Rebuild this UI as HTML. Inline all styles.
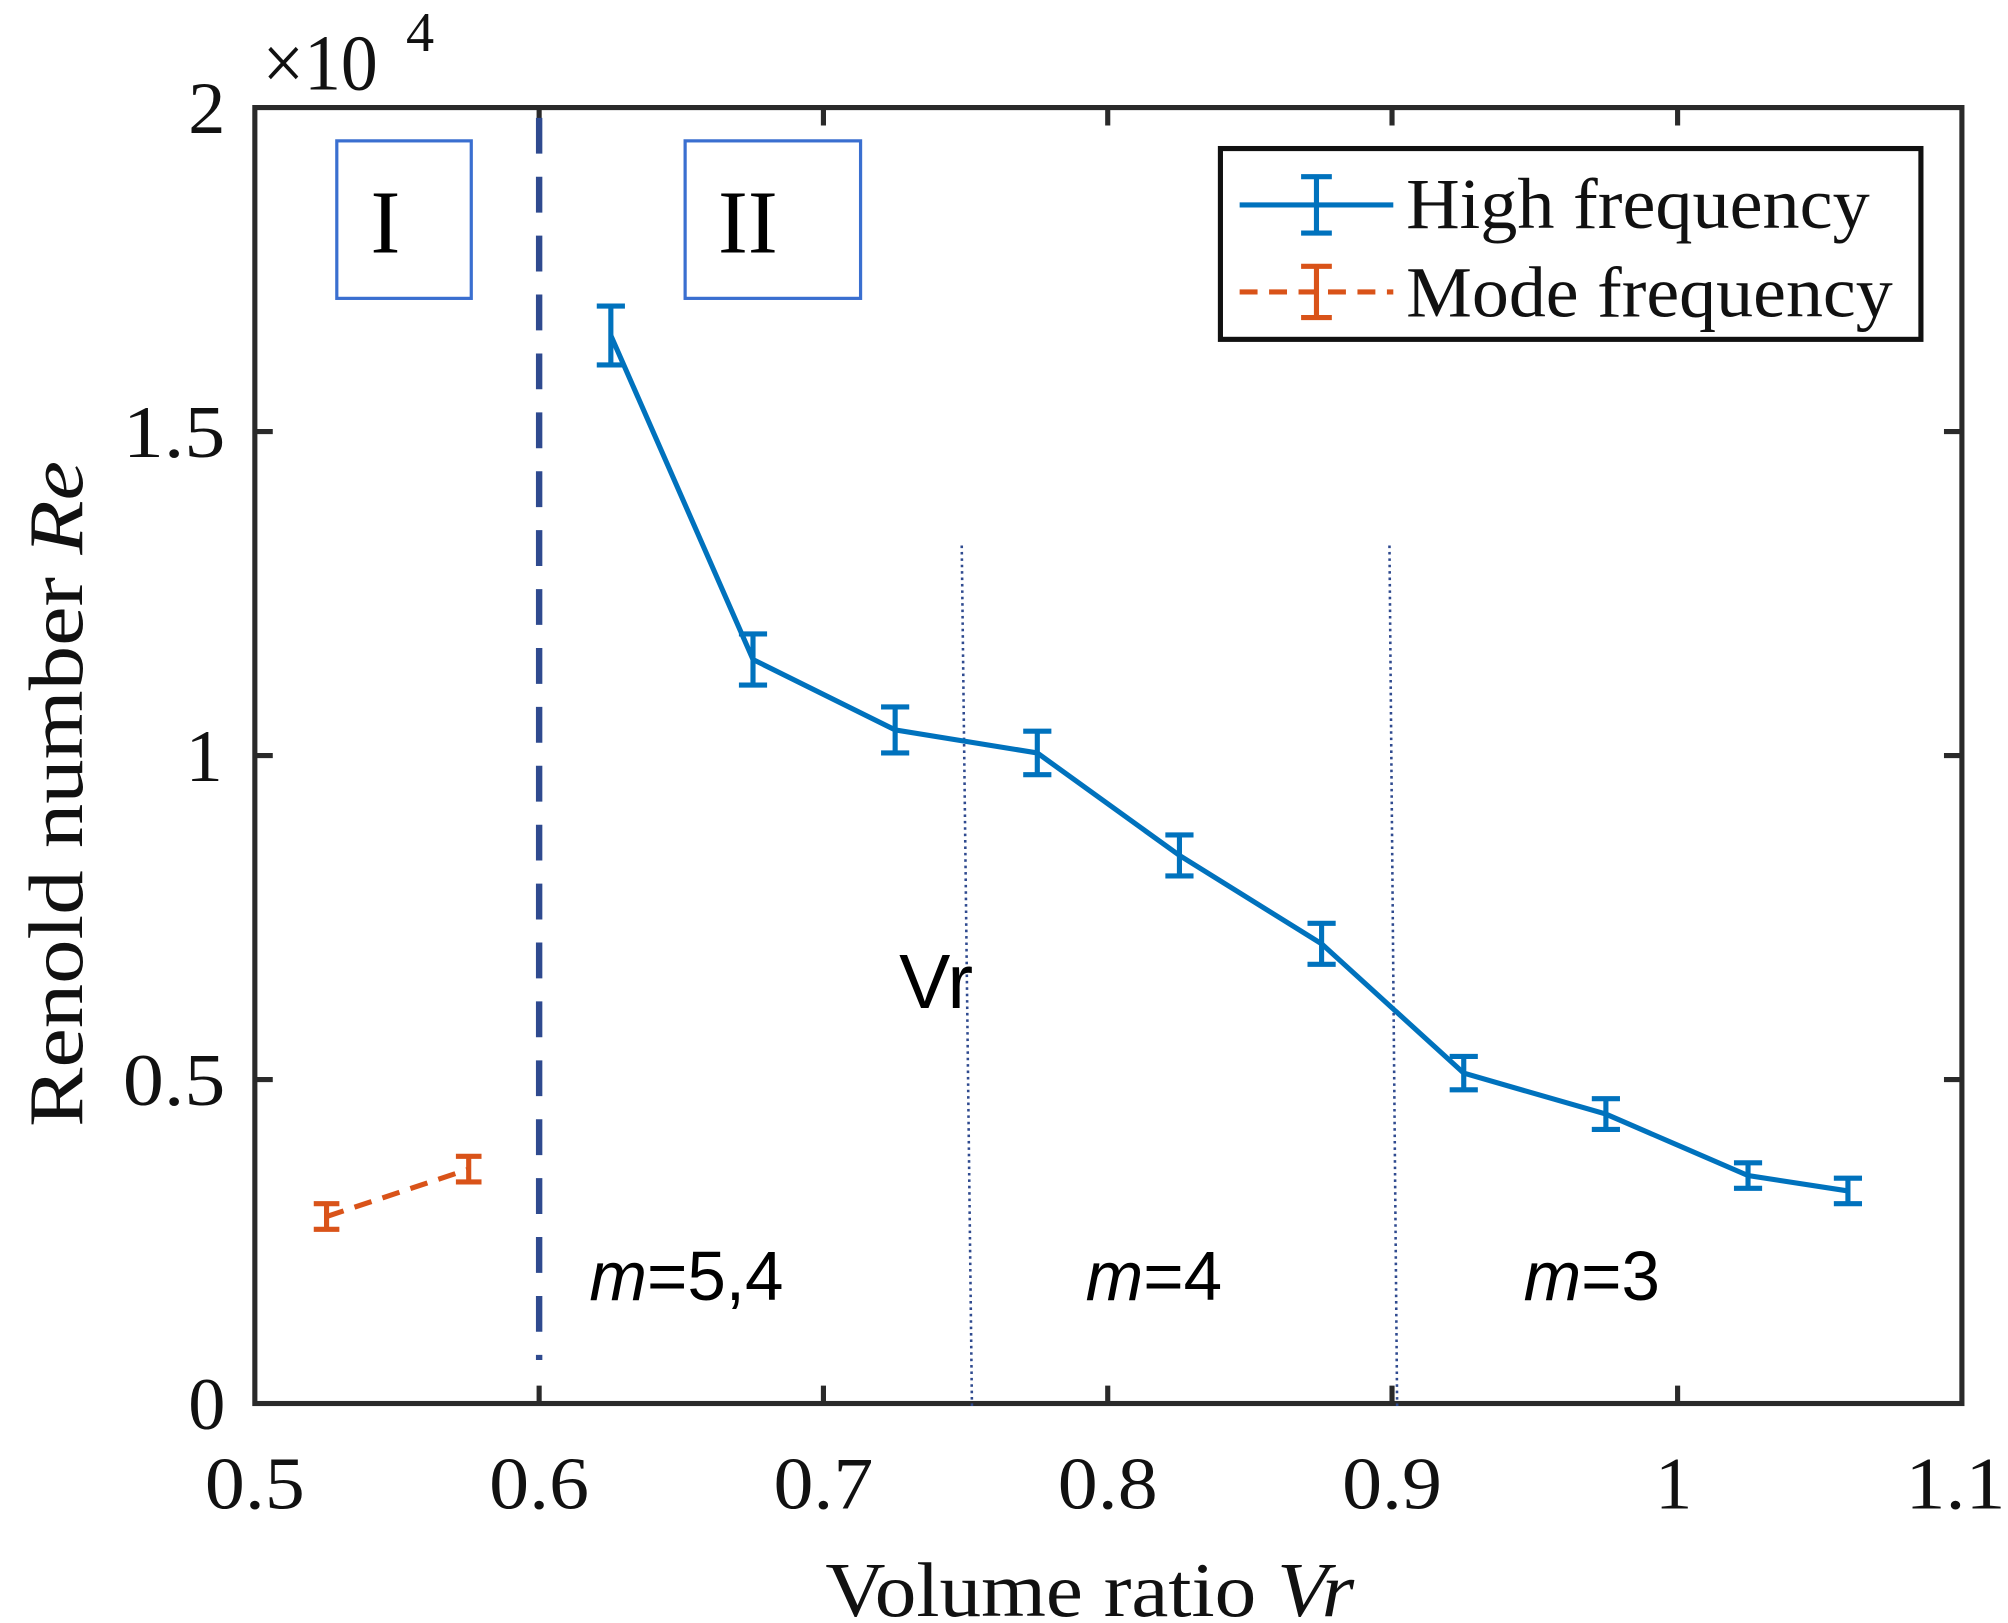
<!DOCTYPE html>
<html><head><style>html,body{margin:0;padding:0;background:#fff}svg{display:block}</style></head>
<body>
<svg width="2008" height="1623" viewBox="0 0 1568 1267.4" preserveAspectRatio="none" xmlns="http://www.w3.org/2000/svg">
<rect width="1568" height="1268" fill="#fff"/>
<g stroke="#2a2a2a" stroke-width="4" fill="none">
<rect x="199" y="84" width="1333" height="1012"/>
<path d="M421,1096v-14M643,1096v-14M865,1096v-14M1087,1096v-14M1310,1096v-14M421,84v14M643,84v14M865,84v14M1087,84v14M1310,84v14"/>
<path d="M199,843h14M199,590h14M199,337h14M1532,843h-14M1532,590h-14M1532,337h-14"/>
</g>
<g font-family="Liberation Serif, serif" font-size="58" fill="#111" text-anchor="middle">
<text x="199" y="1178" textLength="78" lengthAdjust="spacingAndGlyphs">0.5</text><text x="421" y="1178" textLength="78" lengthAdjust="spacingAndGlyphs">0.6</text><text x="643" y="1178" textLength="78" lengthAdjust="spacingAndGlyphs">0.7</text><text x="865" y="1178" textLength="78" lengthAdjust="spacingAndGlyphs">0.8</text><text x="1087" y="1178" textLength="78" lengthAdjust="spacingAndGlyphs">0.9</text><text x="1307" y="1178">1</text><text x="1527" y="1178" textLength="78" lengthAdjust="spacingAndGlyphs">1.1</text>
<g text-anchor="end"><text x="176" y="1116">0</text><text x="176" y="863" textLength="80" lengthAdjust="spacingAndGlyphs">0.5</text><text x="174" y="610">1</text><text x="176" y="357" textLength="80" lengthAdjust="spacingAndGlyphs">1.5</text><text x="176" y="104">2</text></g>
<text x="250" y="70" font-size="62" textLength="90" lengthAdjust="spacingAndGlyphs">×10</text><text x="328" y="40" font-size="44">4</text>
<text x="851" y="1262" font-size="60" textLength="413" lengthAdjust="spacingAndGlyphs">Volume ratio <tspan font-style="italic">Vr</tspan></text>
<text transform="translate(64,620) rotate(-90)" font-size="60" textLength="520" lengthAdjust="spacingAndGlyphs">Renold number <tspan font-style="italic">Re</tspan></text>
</g>
<g fill="none" stroke="#3a6fd0" stroke-width="2.5"><rect x="263" y="110" width="105" height="123"/><rect x="535" y="110" width="137" height="123"/></g>
<g font-family="Liberation Serif, serif" font-size="70" fill="#000" text-anchor="middle"><text x="301" y="197">I</text><text x="584" y="197">II</text></g>
<path d="M421,92V1062" stroke="#2f4a8f" stroke-width="5" stroke-dasharray="28,18"/>
<g stroke="#2f4a8f" stroke-width="2" stroke-dasharray="2,3"><path d="M751,426L759,1100"/><path d="M1085,426L1091,1100"/></g>
<g font-family="Liberation Sans, sans-serif" font-size="54" fill="#000" text-anchor="middle">
<text x="731" y="787" font-size="60">Vr</text>
<text x="536" y="1015"><tspan font-style="italic">m</tspan>=5,4</text>
<text x="901" y="1015"><tspan font-style="italic">m</tspan>=4</text>
<text x="1243" y="1015"><tspan font-style="italic">m</tspan>=3</text>
</g>
<polyline points="477,262 588,515 699,570 810,588 921,668 1032,737 1143,838 1254,870 1365,918 1443,930" fill="none" stroke="#0072bd" stroke-width="4"/>
<g stroke="#0072bd" stroke-width="4">
<path d="M477,239v46M466,239h22M466,285h22"/>
<path d="M588,495v40M577,495h22M577,535h22"/>
<path d="M699,552v36M688,552h22M688,588h22"/>
<path d="M810,571v34M799,571h22M799,605h22"/>
<path d="M921,652v32M910,652h22M910,684h22"/>
<path d="M1032,721v32M1021,721h22M1021,753h22"/>
<path d="M1143,825v26M1132,825h22M1132,851h22"/>
<path d="M1254,858v24M1243,858h22M1243,882h22"/>
<path d="M1365,908v20M1354,908h22M1354,928h22"/>
<path d="M1443,920v20M1432,920h22M1432,940h22"/>
</g>
<path d="M255,950L366,913" stroke="#d95319" stroke-width="4" stroke-dasharray="14,9"/>
<g stroke="#d95319" stroke-width="4"><path d="M255,940v20M245,940h20M245,960h20M366,903v20M356,903h20M356,923h20"/></g>
<rect x="953" y="116" width="547" height="149" fill="#fff" stroke="#111" stroke-width="4"/>
<path d="M968,160h120" stroke="#0072bd" stroke-width="4"/>
<path d="M1028,138v44M1016,138h24M1016,182h24" stroke="#0072bd" stroke-width="4"/>
<path d="M968,228h120" stroke="#d95319" stroke-width="4" stroke-dasharray="14,9"/>
<path d="M1028,208v40M1016,208h24M1016,248h24" stroke="#d95319" stroke-width="4"/>
<g font-family="Liberation Serif, serif" font-size="56" fill="#111"><text x="1098" y="178" textLength="362" lengthAdjust="spacingAndGlyphs">High frequency</text><text x="1098" y="247" textLength="380" lengthAdjust="spacingAndGlyphs">Mode frequency</text></g>
</svg>
</body></html>
